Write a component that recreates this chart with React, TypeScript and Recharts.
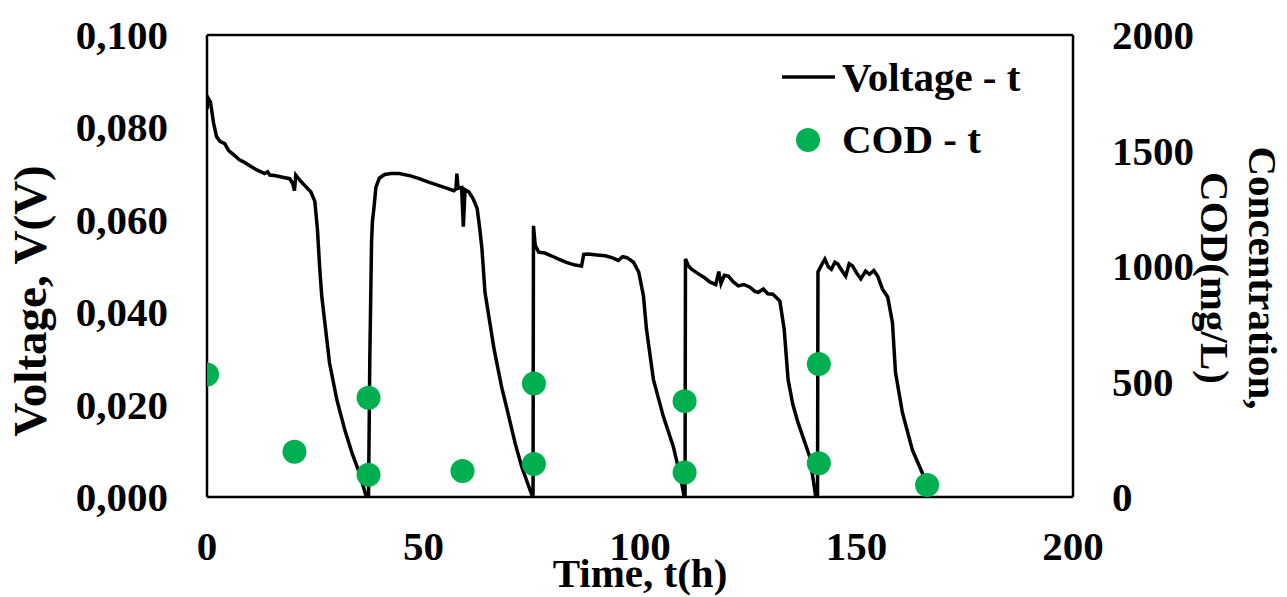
import {
  ComposedChart,
  Line,
  Scatter,
  XAxis,
  YAxis,
} from 'recharts';

const FONT = '"Liberation Serif", "Times New Roman", serif';
const COD_GREEN = '#00B050';

// time (h) / voltage (V)
const voltageTimes = [
  0.0, 0.3, 0.8, 1.5, 2.2, 3.0, 4.1, 5.0, 6.4, 7.5, 8.5, 9.9, 11.5, 13.3, 14.0, 14.5, 15.6, 17.5, 19.1,
  19.8, 20.2, 20.5, 21.5, 22.6, 24.0, 24.9, 25.5, 26.0, 26.5, 28.3, 30.0, 31.8, 33.5, 35.2, 36.8,
  37.3, 37.6, 38.0, 38.2, 38.6, 39.0, 39.8, 41.0,
  42.5, 44.4, 47.0, 49.0, 51.0, 53.6, 55.5, 57.0, 57.5, 57.7, 58.0, 58.8, 59.2, 59.6, 60.5, 61.5, 62.4,
  63.0, 63.5, 64.2, 66.3, 68.0, 69.7, 71.2, 72.7, 75.2,
  75.3, 75.4, 75.8, 76.6,
  78.0, 80.0, 81.2, 83.0, 85.0, 86.5, 87.0, 88.0, 90.0, 92.0, 93.5, 95.0, 96.0, 97.0, 98.5, 99.7,
  100.8, 101.5, 103.1, 105.4, 107.7, 109.5, 110.2,
  110.4, 110.5, 111.2, 111.9, 113.5, 115.0, 116.2, 117.5, 118.2, 118.7, 119.5, 120.4, 121.5, 122.7,
  124.0, 125.4, 126.5, 127.3, 128.5, 129.5, 130.7, 132.3, 133.3, 134.2, 135.3, 136.5, 139.2, 140.6,
  141.0, 141.1, 141.8, 142.7,
  143.5, 144.2, 145.0, 145.7, 146.5, 147.5, 148.3, 149.1, 150.0, 151.0, 152.1, 153.0, 154.0, 154.9,
  156.0, 157.2, 158.3, 159.0, 160.6, 162.9, 165.2, 165.8,
];
const voltageValues = [
  0.084, 0.0863, 0.0855, 0.081, 0.078, 0.077, 0.0765, 0.075, 0.0739, 0.073, 0.0725, 0.0717, 0.0708, 0.07, 0.0704, 0.0697, 0.0696, 0.0692, 0.0689,
  0.0678, 0.0663, 0.0697, 0.0685, 0.0674, 0.066, 0.064, 0.058, 0.05, 0.0435, 0.029, 0.021, 0.0146, 0.0095, 0.0052, 0.0,
  0.0, 0.03, 0.055, 0.0596, 0.063, 0.067, 0.069, 0.0698,
  0.07, 0.07, 0.0695, 0.0689, 0.0682, 0.0674, 0.0668, 0.0663, 0.0667, 0.07, 0.0668, 0.067, 0.0585, 0.0665, 0.066, 0.0645, 0.0624,
  0.058, 0.0537, 0.0443, 0.032, 0.024, 0.0174, 0.0115, 0.0065, 0.0,
  0.0, 0.0587, 0.0545, 0.053,
  0.0528, 0.052, 0.0515, 0.0508, 0.0502, 0.05, 0.0525, 0.0526, 0.0524, 0.0522, 0.0518, 0.0512, 0.052, 0.0518, 0.0508, 0.0487,
  0.0435, 0.0363, 0.0254, 0.0174, 0.0109, 0.0037, 0.0,
  0.0, 0.0515, 0.05, 0.0493, 0.0483, 0.0474, 0.0465, 0.046, 0.0488, 0.0462, 0.048, 0.0478, 0.0466, 0.0457,
  0.046, 0.0454, 0.0445, 0.0443, 0.045, 0.044, 0.0439, 0.0424, 0.0363, 0.0254, 0.02, 0.0161, 0.0087, 0.0,
  0.0, 0.0487, 0.05, 0.0515,
  0.0498, 0.0493, 0.0508, 0.0504, 0.0492, 0.0478, 0.0505, 0.05, 0.0485, 0.0472, 0.0489, 0.0482, 0.049, 0.0478,
  0.045, 0.0433, 0.0378, 0.027, 0.0183, 0.0102, 0.0052, 0.0035,
];

// COD samples (mg/L)
const codTimes = [0, 20.2, 37.3, 37.3, 59.0, 75.5, 75.5, 110.3, 110.3, 141.3, 141.3, 166.3];
const codValues = [530, 196, 430, 96, 113, 491, 143, 415, 106, 576, 146, 52];

const xTicks = [0, 50, 100, 150, 200];
const voltageTicks = [0, 0.02, 0.04, 0.06, 0.08, 0.1];
const codTicks = [0, 500, 1000, 1500, 2000];

const voltageData = voltageTimes.map((t, i) => ({ t, v: voltageValues[i] }));
const codData = codTimes.map((t, i) => ({ t, cod: codValues[i] }));

const textStyle = { fontFamily: FONT, fontWeight: 700, fontSize: 41, fill: '#000' };

function XTick({ x, y, payload }: any) {
  return (
    <text x={x} y={y + 63} textAnchor="middle" style={textStyle}>
      {payload.value}
    </text>
  );
}

function LeftTick({ x, y, payload }: any) {
  return (
    <text x={x} y={y + 14} textAnchor="end" style={textStyle}>
      {Number(payload.value).toFixed(3).replace('.', ',')}
    </text>
  );
}

function RightTick({ x, y, payload }: any) {
  return (
    <text x={x} y={y + 14} textAnchor="start" style={textStyle}>
      {payload.value}
    </text>
  );
}

function CodDot(props: any) {
  return <circle cx={props.cx} cy={props.cy} r={12} fill={COD_GREEN} />;
}

export default function App() {
  return (
    <div style={{ position: 'absolute', left: 0, top: 0, width: 1287, height: 597, background: '#fff' }}>
      <ComposedChart width={1287} height={597} margin={{ top: 34, right: 0, bottom: 0, left: 0 }}>
        <XAxis
          dataKey="t"
          type="number"
          domain={[0, 200]}
          ticks={xTicks}
          allowDataOverflow
          height={100}
          tickSize={0}
          tickMargin={0}
          tick={<XTick />}
          axisLine={{ stroke: '#000', strokeWidth: 2.5 }}
        />
        {/* top frame line */}
        <XAxis
          xAxisId="top"
          orientation="top"
          type="number"
          domain={[0, 200]}
          height={1}
          tick={false}
          tickLine={false}
          axisLine={{ stroke: '#000', strokeWidth: 2.5 }}
        />
        <YAxis
          yAxisId="left"
          type="number"
          domain={[0, 0.1]}
          ticks={voltageTicks}
          allowDataOverflow
          width={207}
          tickSize={0}
          tickMargin={39}
          tick={<LeftTick />}
          axisLine={{ stroke: '#000', strokeWidth: 2.5 }}
        />
        <YAxis
          yAxisId="right"
          orientation="right"
          type="number"
          domain={[0, 2000]}
          ticks={codTicks}
          allowDataOverflow
          width={214}
          tickSize={0}
          tickMargin={39}
          tick={<RightTick />}
          axisLine={{ stroke: '#000', strokeWidth: 2.5 }}
        />
        <Line
          yAxisId="left"
          data={voltageData}
          dataKey="v"
          type="linear"
          stroke="#000"
          strokeWidth={3.5}
          dot={false}
          activeDot={false}
          isAnimationActive={false}
          name="Voltage - t"
        />
        <Scatter
          yAxisId="right"
          data={codData}
          dataKey="cod"
          shape={<CodDot />}
          isAnimationActive={false}
          name="COD - t"
        />
      </ComposedChart>
      <svg width={1287} height={597} style={{ position: 'absolute', left: 0, top: 0, pointerEvents: 'none' }}>
        {/* legend */}
        <line x1={782} x2={835} y1={77} y2={77} stroke="#000" strokeWidth={3.5} />
        <text x={842} y={91} style={textStyle}>Voltage - t</text>
        <circle cx={808} cy={140} r={12} fill={COD_GREEN} />
        <text x={842} y={153} style={textStyle}>COD - t</text>
        {/* axis titles */}
        <text x={46} y={301} transform="rotate(-90 46 301)" textAnchor="middle" style={{ ...textStyle, fontSize: 47 }}>
          Voltage, V(V)
        </text>
        <text x={1249} y={278} transform="rotate(90 1249 278)" textAnchor="middle" style={textStyle}>
          Concentration,
        </text>
        <text x={1201} y={278} transform="rotate(90 1201 278)" textAnchor="middle" style={textStyle}>
          COD(mg/L)
        </text>
        <text x={640} y={587} textAnchor="middle" style={textStyle}>
          Time, t(h)
        </text>
      </svg>
    </div>
  );
}
